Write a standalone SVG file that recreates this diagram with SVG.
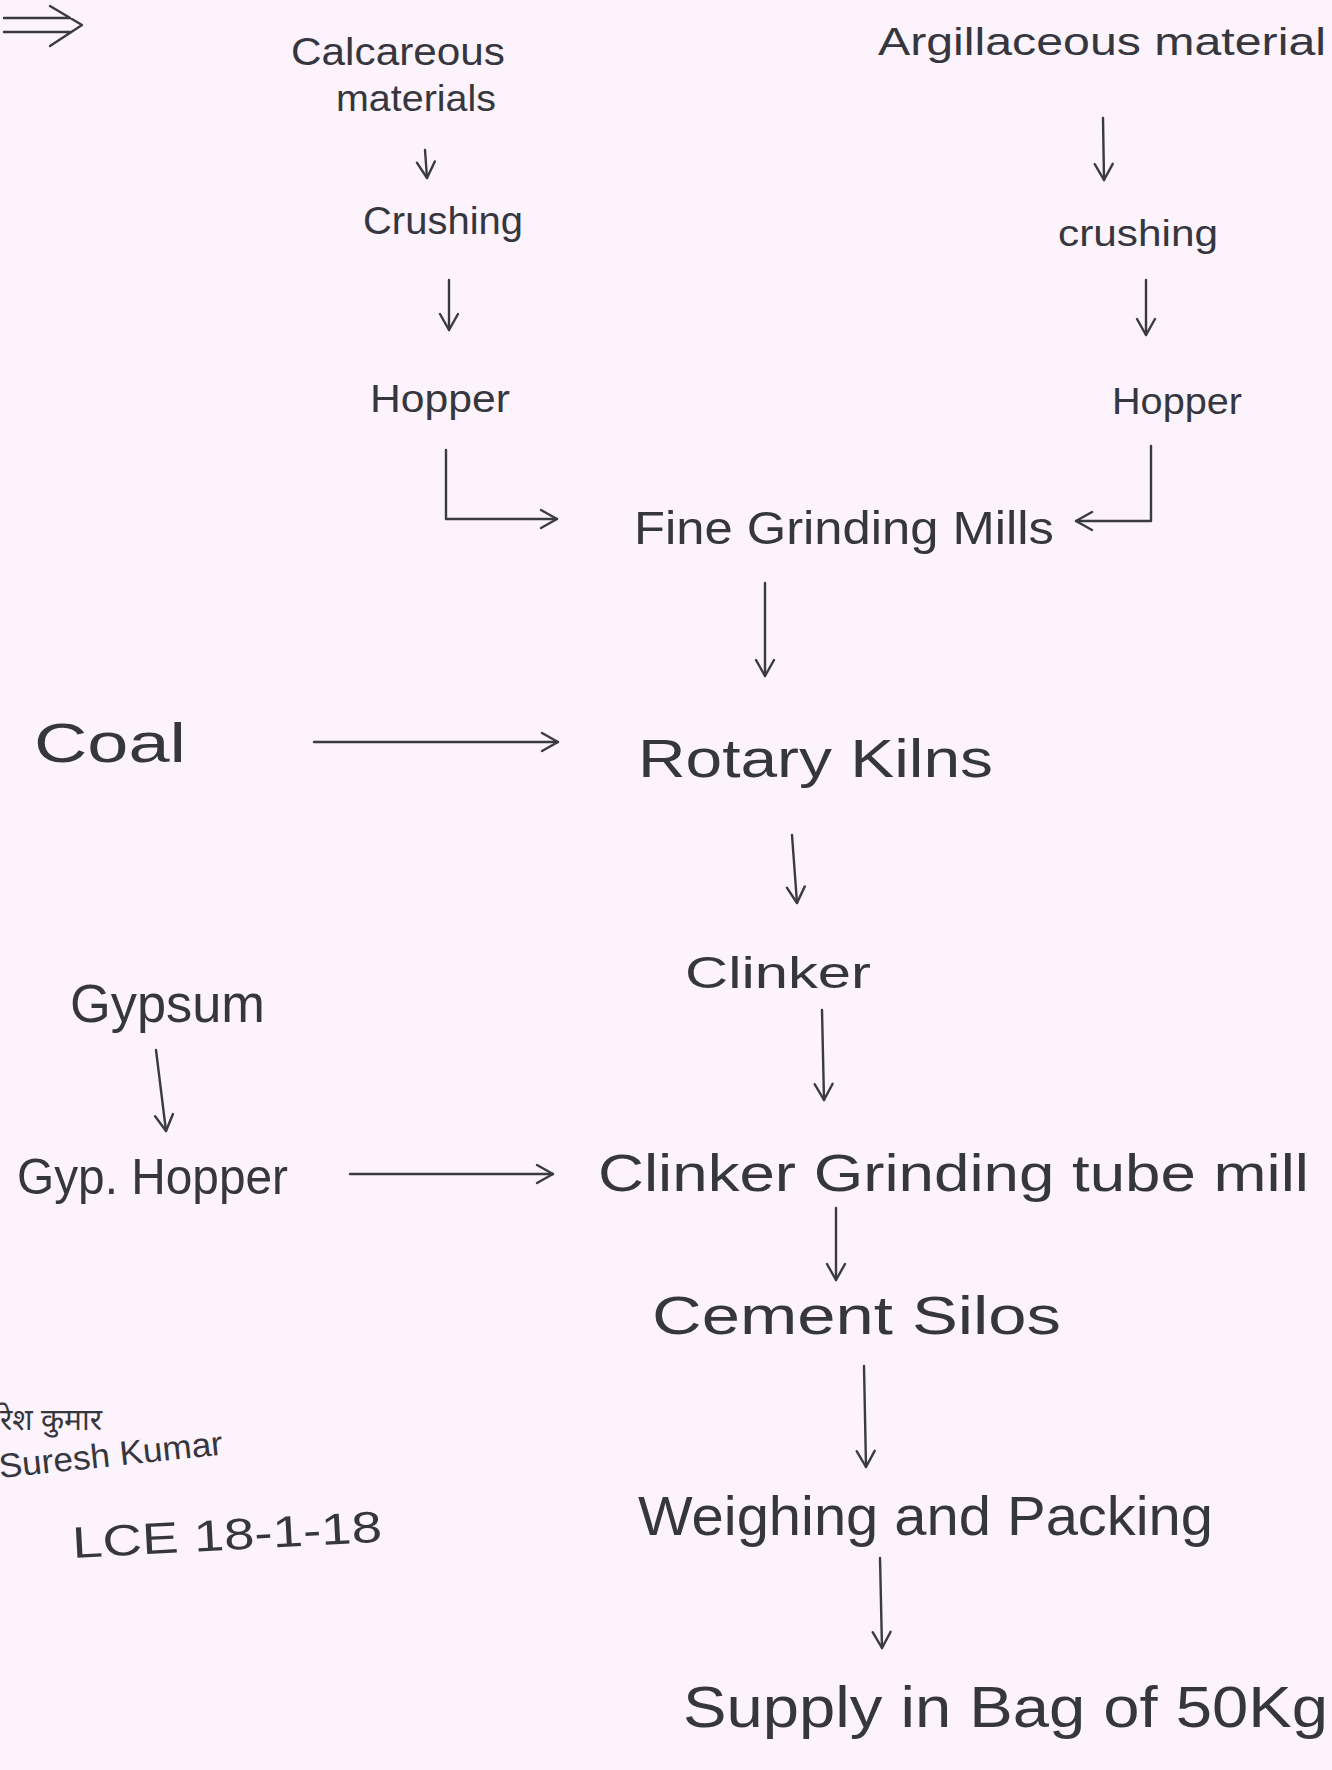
<svg xmlns="http://www.w3.org/2000/svg" width="1332" height="1770" viewBox="0 0 1332 1770">
<defs>
<marker id="ah" markerUnits="userSpaceOnUse" markerWidth="24" markerHeight="24" viewBox="0 0 24 24" refX="22" refY="12" orient="auto">
<path d="M6,3 L22,12 L6,21" fill="none" stroke="#3a3a42" stroke-width="2.4" stroke-linecap="round" stroke-linejoin="round"/>
</marker>
<style>
.t{font-family:"Liberation Sans","Noto Sans",sans-serif;fill:#36363e;}
.c{fill:none;stroke:#3a3a42;stroke-width:2.4;stroke-linecap:round;stroke-linejoin:round;}
</style>
</defs>
<rect width="1332" height="1770" fill="#fcf3fc"/>
<g id="connectors">
<path class="c" d="M4,18 L70,18 M4,32 L70,32 M50,6 L82,25 L50,46"/>
<path class="c" marker-end="url(#ah)" d="M425,150 L427,178"/>
<path class="c" marker-end="url(#ah)" d="M449,280 L449,330"/>
<path class="c" marker-end="url(#ah)" d="M446,450 L446,519 L557,519"/>
<path class="c" marker-end="url(#ah)" d="M1103,118 L1104,180"/>
<path class="c" marker-end="url(#ah)" d="M1146,280 L1146,335"/>
<path class="c" marker-end="url(#ah)" d="M1151,446 L1151,521 L1076,521"/>
<path class="c" marker-end="url(#ah)" d="M765,583 L765,676"/>
<path class="c" marker-end="url(#ah)" d="M314,742 L558,742"/>
<path class="c" marker-end="url(#ah)" d="M792,835 L797,903"/>
<path class="c" marker-end="url(#ah)" d="M822,1010 L824,1100"/>
<path class="c" marker-end="url(#ah)" d="M156,1050 L166,1131"/>
<path class="c" marker-end="url(#ah)" d="M350,1174 L553,1174"/>
<path class="c" marker-end="url(#ah)" d="M836,1208 L836,1280"/>
<path class="c" marker-end="url(#ah)" d="M864,1366 L866,1467"/>
<path class="c" marker-end="url(#ah)" d="M880,1558 L882,1648"/>
</g>
<g id="calcareous"><text class="t" x="291" y="65" font-size="38" textLength="214" lengthAdjust="spacingAndGlyphs">Calcareous</text><text class="t" x="336" y="111" font-size="36" textLength="160" lengthAdjust="spacingAndGlyphs">materials</text></g>
<g id="crushing-left"><text class="t" x="363" y="234" font-size="38" textLength="160" lengthAdjust="spacingAndGlyphs">Crushing</text></g>
<g id="hopper-left"><text class="t" x="370" y="412" font-size="38" textLength="140" lengthAdjust="spacingAndGlyphs">Hopper</text></g>
<g id="argillaceous"><text class="t" x="878" y="55" font-size="38" textLength="448" lengthAdjust="spacingAndGlyphs">Argillaceous material</text></g>
<g id="crushing-right"><text class="t" x="1058" y="246" font-size="36" textLength="160" lengthAdjust="spacingAndGlyphs">crushing</text></g>
<g id="hopper-right"><text class="t" x="1112" y="414" font-size="36" textLength="130" lengthAdjust="spacingAndGlyphs">Hopper</text></g>
<g id="fine-grinding"><text class="t" x="634" y="544" font-size="46" textLength="420" lengthAdjust="spacingAndGlyphs">Fine Grinding Mills</text></g>
<g id="coal"><text class="t" x="34" y="762" font-size="56" textLength="152" lengthAdjust="spacingAndGlyphs">Coal</text></g>
<g id="rotary-kilns"><text class="t" x="638" y="777" font-size="54" textLength="355" lengthAdjust="spacingAndGlyphs">Rotary Kilns</text></g>
<g id="clinker"><text class="t" x="685" y="988" font-size="44" textLength="186" lengthAdjust="spacingAndGlyphs">Clinker</text></g>
<g id="gypsum"><text class="t" x="70" y="1022" font-size="54" textLength="195" lengthAdjust="spacingAndGlyphs">Gypsum</text></g>
<g id="gyp-hopper"><text class="t" x="17" y="1194" font-size="50" textLength="271" lengthAdjust="spacingAndGlyphs">Gyp. Hopper</text></g>
<g id="clinker-grinding"><text class="t" x="598" y="1191" font-size="52" textLength="711" lengthAdjust="spacingAndGlyphs">Clinker Grinding tube mill</text></g>
<g id="cement-silos"><text class="t" x="652" y="1334" font-size="54" textLength="409" lengthAdjust="spacingAndGlyphs">Cement Silos</text></g>
<g id="weighing"><text class="t" x="638" y="1535" font-size="56" textLength="575" lengthAdjust="spacingAndGlyphs">Weighing and Packing</text></g>
<g id="supply"><text class="t" x="683" y="1727" font-size="58" textLength="645" lengthAdjust="spacingAndGlyphs">Supply in Bag of 50Kg</text></g>
<g id="signature">
<text class="t" x="0" y="1430" font-size="30">रेश कुमार</text>
<text class="t" x="0" y="1478" font-size="34" textLength="225" lengthAdjust="spacingAndGlyphs" transform="rotate(-6 0 1478)">Suresh Kumar</text>
<text class="t" x="73" y="1558" font-size="44" textLength="310" lengthAdjust="spacingAndGlyphs" transform="rotate(-3 73 1558)">LCE 18-1-18</text>
</g>
</svg>
